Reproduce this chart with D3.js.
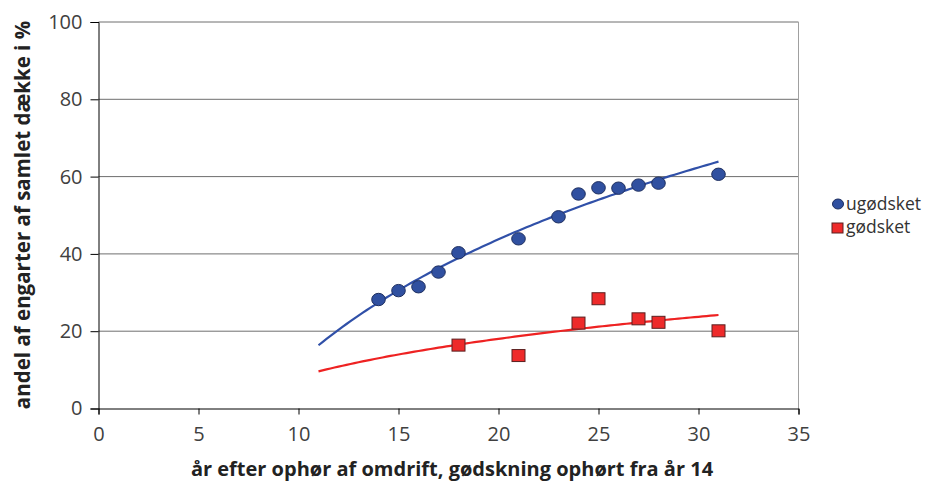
<!DOCTYPE html>
<html><head><meta charset="utf-8">
<script src="https://cdn.jsdelivr.net/npm/d3@7"></script>
<style>body{margin:0;background:#fff}text{font-family:"Open Sans","Noto Sans",sans-serif}</style>
</head><body><svg id="c" width="947" height="481"></svg>
<script>
const ugX = [14,15,16,17,18,21,23,24,25,26,27,28,31];
const ugY = [28.2,30.5,31.5,35.3,40.3,43.9,49.6,55.5,57.1,57.0,57.8,58.3,60.6];
const gX = [18,21,24,25,27,28,31];
const gY = [16.4,13.7,22.1,28.4,23.2,22.3,20.1];
const trendRange = [11,31];
const xTicks = [0,5,10,15,20,25,30,35];
const yTicks = [0,20,40,60,80,100];
const seriesNames = ["ugødsket","gødsket"];

const svg = d3.select("#c");
const x = d3.scaleLinear().domain([0,35]).range([98.5,798.5]);
const y = d3.scaleLinear().domain([0,100]).range([408.5,22]);

// gridlines
svg.append("g").selectAll("line").data(yTicks.filter(d=>d>0)).join("line")
  .attr("x1",x(0)).attr("x2",x(35)).attr("y1",d=>y(d)).attr("y2",d=>y(d))
  .attr("stroke","#6e6e6e").attr("stroke-width",1);
// right border
svg.append("line").attr("x1",x(35)).attr("x2",x(35)).attr("y1",y(100)).attr("y2",y(0))
  .attr("stroke","#a0a0a0");

const yAx = svg.append("g").attr("transform",`translate(${x(0)},0)`)
  .call(d3.axisLeft(y).tickValues(yTicks).tickSize(8).tickPadding(8));
const xAx = svg.append("g").attr("transform",`translate(0,${y(0)})`)
  .call(d3.axisBottom(x).tickValues(xTicks).tickSize(6).tickPadding(12));
[yAx,xAx].forEach(a=>{
  a.select(".domain").attr("stroke","#000");
  a.selectAll(".tick line").attr("stroke","#000");
  a.selectAll("text").attr("font-size",20).attr("fill","#404040").style("font-family","'Open Sans',sans-serif");
});

// log regression
function logFit(xs,ys){
  const lx = xs.map(Math.log), n = xs.length;
  const mx = d3.mean(lx), my = d3.mean(ys);
  let sxy=0,sxx=0;
  for(let i=0;i<n;i++){sxy+=(lx[i]-mx)*(ys[i]-my);sxx+=(lx[i]-mx)**2;}
  const a=sxy/sxx; return {a, b: my-a*mx};
}
function trend(xs,ys,color){
  const f = logFit(xs,ys);
  const pts = d3.range(0,101).map(i=>{const xv=trendRange[0]+(trendRange[1]-trendRange[0])*i/100;return [xv,f.a*Math.log(xv)+f.b];});
  svg.append("path").datum(pts).attr("fill","none").attr("stroke",color).attr("stroke-width",2.2)
    .attr("d",d3.line().x(d=>x(d[0])).y(d=>y(d[1])));
}
trend(ugX,ugY,"#3050a8");
trend(gX,gY,"#ee2222");

const ug = ugX.map((d,i)=>[d,ugY[i]]);
const g = gX.map((d,i)=>[d,gY[i]]);
svg.append("g").selectAll("ellipse").data(ug).join("ellipse")
  .attr("cx",d=>x(d[0])).attr("cy",d=>y(d[1])).attr("rx",6.8).attr("ry",6.2)
  .attr("fill","#3050a0").attr("stroke","#1e2f60").attr("stroke-width",1);
svg.append("g").selectAll("rect").data(g).join("rect")
  .attr("x",d=>x(d[0])-6.5).attr("y",d=>y(d[1])-6).attr("width",13).attr("height",12)
  .attr("fill","#ee2a2a").attr("stroke","#5a2020").attr("stroke-width",1);

// titles
svg.append("text").attr("x",452).attr("y",476).attr("text-anchor","middle")
  .attr("font-size",20).attr("font-weight","bold").attr("fill","#222")
  .text("år efter ophør af omdrift, gødskning ophørt fra år 14");
svg.append("text").attr("transform","translate(30,215) rotate(-90)").attr("text-anchor","middle")
  .attr("font-size",20.5).attr("font-weight","bold").attr("fill","#222")
  .text("andel af engarter af samlet dække i %");

// legend
const lg = svg.append("g");
lg.append("ellipse").attr("cx",838).attr("cy",204).attr("rx",5.5).attr("ry",5)
  .attr("fill","#3050a0").attr("stroke","#1e2f60");
lg.append("rect").attr("x",832).attr("y",223).attr("width",11).attr("height",10)
  .attr("fill","#ee2a2a").attr("stroke","#5a2020");
lg.selectAll("text").data(seriesNames).join("text")
  .attr("x",846).attr("y",(d,i)=>210+i*23).attr("font-size",17.5).attr("fill","#333").text(d=>d);
</script></body></html>
